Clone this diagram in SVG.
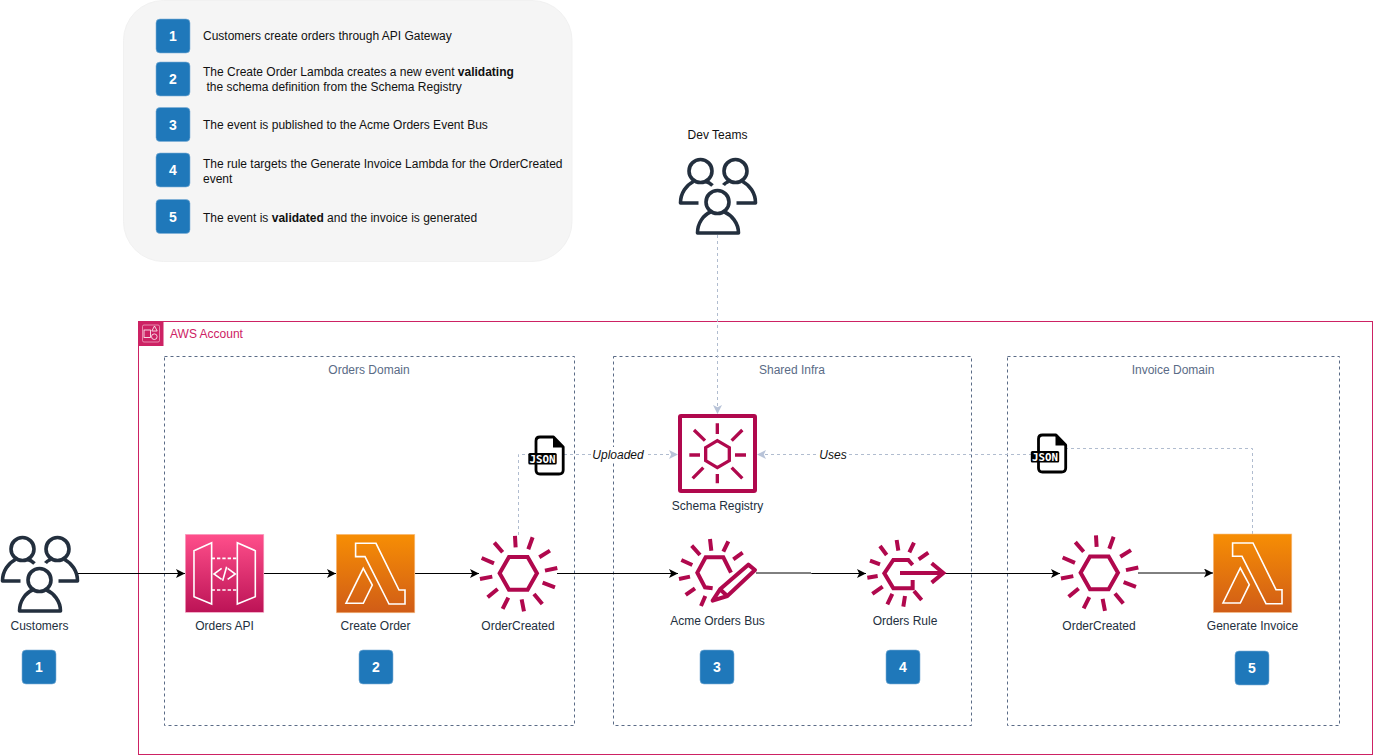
<svg xmlns="http://www.w3.org/2000/svg" width="1373" height="755" viewBox="0 0 1373 755">
<style>
text{font-family:"Liberation Sans",Arial,sans-serif;font-size:12px}
.lbl{fill:#232f3e;text-anchor:middle}
.lg{fill:#111}
.dom{fill:none;stroke:#5a6b86;stroke-dasharray:3 3}
.domt{fill:#5a6b86;text-anchor:middle}
.badge rect{fill:#1f78ba;stroke:#7fb0d6;stroke-width:.6}
.badge text{fill:#fff;font-weight:bold;font-size:14px;text-anchor:middle}
.flow{fill:none;stroke:#000;marker-end:url(#ah)}
.dep{fill:none;stroke:#b0bccf;stroke-dasharray:3 3}
.it{font-style:italic;fill:#111;text-anchor:middle}
.ppl{fill:none;stroke:#232f3e;stroke-width:3.6;stroke-linejoin:round}
.pink{fill:none;stroke:#b0084d;stroke-width:12}
.wht{fill:none;stroke:#fff;stroke-width:1.6}
</style>
<defs>
<marker id="ah" markerUnits="userSpaceOnUse" markerWidth="10" markerHeight="10" refX="9" refY="4.5" orient="auto"><path d="M9,4.5 L0,9 L2.2,4.5 L0,0 Z" fill="#000"/></marker>
<marker id="al" markerUnits="userSpaceOnUse" markerWidth="10" markerHeight="10" refX="9" refY="4.5" orient="auto"><path d="M9,4.5 L0,9 L2.2,4.5 L0,0 Z" fill="#b8c3d8"/></marker>
<linearGradient id="gp" x1="0" y1="0" x2="0" y2="1"><stop offset="0" stop-color="#ff4f8b"/><stop offset="1" stop-color="#bc1356"/></linearGradient>
<linearGradient id="go" x1="0" y1="0" x2="0" y2="1"><stop offset="0" stop-color="#f78e04"/><stop offset="1" stop-color="#d05c17"/></linearGradient>
<g id="people" class="ppl">
<circle cx="22" cy="14" r="11.5"/><circle cx="57" cy="14" r="11.5"/><circle cx="39" cy="45" r="11.5"/>
<path d="M20,46 H2 C2,36 8,28 15,24.5 M27,24.5 C29.5,25 32,26.5 34,28.5"/>
<path d="M58,46 H77 C77,36 71,28 64,24.5 M50,24.5 C48,25.5 46,26.5 45,28"/>
<path d="M32,55 C25,58 19,66 19,76 H60 C60,66 53,58 46,55"/>
</g>
<g id="evt" class="pink" transform="scale(.3333)">
<path d="M-56,0 L-28,-49 H28 L56,0 L28,49 H-28 Z"/>
<path d="M-10,-112 L-8,-78 M43,-108 L30,-72 M95,-68 L63,-48 M117,-16 L80,-8 M110,42 L73,28 M72,92 L47,62 M17,114 L10,78 M-47,107 L-30,73 M-92,72 L-62,47 M-115,17 L-78,10 M-110,-46 L-73,-30 M-72,-92 L-47,-63"/>
</g>
<g id="lam">
<rect width="78.5" height="78.5" fill="url(#go)" stroke="#f8c48c" stroke-width=".6"/>
<path class="wht" d="M19.3,9 H39.7 L62.7,55.7 H68.7 V69.7 H52.7 L28.7,22.3 H19.3 Z"/>
<path class="wht" d="M27,34 L36,50.7 L27,69 H9.7 Z"/>
</g>
<g id="json">
<path d="M544,437 H553.500 L563.200,447 V470 Q563.200,474 559,474 H540 Q536,474 536,470 V441 Q536,437 540,437 Z" fill="#fff" stroke="#000" stroke-width="2.8" stroke-linejoin="round"/>
<path d="M553,437 L563.500,447.500 H553 Z" fill="#000"/>
<rect x="528.300" y="453" width="28.400" height="11.500" rx="1.500" fill="#000"/>
<text x="542.500" y="462.500" fill="#fff" text-anchor="middle" style="font-family:'DejaVu Sans Mono','Liberation Mono',monospace;font-size:10.8px;font-weight:bold">JSON</text>
</g>
</defs>
<rect width="1373" height="755" fill="#fff"/>

<g id="legend">
<rect x="123.500" y="0.500" width="448.500" height="261" rx="40" fill="#f5f5f5" stroke="#f1f1f1"/>
<text class="lg" x="203" y="40">Customers create orders through API Gateway</text>
<text class="lg" x="203" y="76">The Create Order Lambda creates a new event <tspan font-weight="bold">validating</tspan></text>
<text class="lg" x="206.400" y="91">the schema definition from the Schema Registry</text>
<text class="lg" x="203" y="129">The event is published to the Acme Orders Event Bus</text>
<text class="lg" x="203" y="168">The rule targets the Generate Invoice Lambda for the OrderCreated</text>
<text class="lg" x="203" y="183">event</text>
<text class="lg" x="203" y="222">The event is <tspan font-weight="bold">validated</tspan> and the invoice is generated</text>
<g class="badge"><rect x="156" y="19" width="34" height="34" rx="4"/><text x="173" y="41">1</text></g>
<g class="badge"><rect x="156" y="62" width="34" height="34" rx="4"/><text x="173" y="84">2</text></g>
<g class="badge"><rect x="156" y="107.500" width="34" height="34" rx="4"/><text x="173" y="129.500">3</text></g>
<g class="badge"><rect x="156" y="153" width="34" height="34" rx="4"/><text x="173" y="175">4</text></g>
<g class="badge"><rect x="156" y="199.500" width="34" height="34" rx="4"/><text x="173" y="221.500">5</text></g>
</g>

<g id="aws-account">
<rect x="138.500" y="321.500" width="1234" height="433" fill="none" stroke="#cd2264"/>
<rect x="138.500" y="321" width="25" height="25" fill="#cd2264"/>
<rect x="142.500" y="325" width="17" height="17" rx="1.500" fill="none" stroke="#f3b6cd" stroke-width=".7"/>
<rect x="144" y="330" width="6.500" height="7.500" fill="none" stroke="#fff" stroke-width=".8"/>
<path d="M154.500,326 L151.800,331 H157.200 Z" fill="none" stroke="#fff" stroke-width=".8"/>
<circle cx="154.300" cy="336.700" r="2.800" fill="none" stroke="#fff" stroke-width=".8"/>
<text x="170" y="338" fill="#cd2264">AWS Account</text>
</g>
<g id="orders-domain"><rect class="dom" x="164.500" y="356.500" width="410" height="369"/><text class="domt" x="369" y="374">Orders Domain</text></g>
<g id="shared-infra"><rect class="dom" x="613.500" y="356.500" width="358" height="369"/><text class="domt" x="792" y="374">Shared Infra</text></g>
<g id="invoice-domain"><rect class="dom" x="1007.500" y="356.500" width="332" height="369"/><text class="domt" x="1173" y="374">Invoice Domain</text></g>

<g id="connectors">
<path class="flow" d="M78,573.500 H185"/>
<path class="flow" d="M264,573.500 H336"/>
<path class="flow" d="M415,573.500 H479"/>
<path class="flow" d="M557,573.500 H678"/>
<path class="flow" d="M756,573 H811 L811.500,573.500 H866"/>
<path class="flow" d="M944,573.500 H1060"/>
<path class="flow" d="M1138,573 H1213"/>
<path class="dep" d="M717.500,235 V414" marker-end="url(#al)"/>
<path class="dep" d="M518.500,535 V454.500 H678" marker-end="url(#al)"/>
<path class="dep" d="M1252.500,534 V448.500 H1042 V454.500 H757" marker-end="url(#al)"/>
<rect x="591" y="447" width="54" height="16" fill="#fff"/>
<text class="it" x="618" y="459">Uploaded</text>
<rect x="818" y="447" width="30" height="16" fill="#fff"/>
<text class="it" x="833" y="459">Uses</text>
</g>

<g id="dev-teams"><text x="717.500" y="139" fill="#111" text-anchor="middle">Dev Teams</text><use href="#people" x="678.500" y="157"/></g>
<g id="customers"><use href="#people" x="0.500" y="535"/><text class="lbl" x="39.500" y="630">Customers</text></g>
<g id="badge-1" class="badge"><rect x="22" y="650" width="34" height="34" rx="4"/><text x="39" y="672">1</text></g>

<g id="orders-api">
<rect x="185.300" y="534.300" width="78.500" height="78" fill="url(#gp)" stroke="#f7a8c6" stroke-width=".6"/>
<g transform="translate(0 520) scale(.3333)" fill="none" stroke="#fff" stroke-width="4.800">
<path d="M582,92 L635,68 V252 L582,230 Z M712,68 L766,92 V230 L712,252 Z"/>
<path d="M665,145 L642,162 L665,178 M683,145 L706,162 L683,178 M668,182 L680,140"/>
<path d="M635,115 H712 M635,210 H712" stroke-dasharray="10 6"/>
</g>
<text class="lbl" x="224.500" y="630">Orders API</text>
</g>

<g id="create-order"><use href="#lam" x="336.300" y="534.300"/><text class="lbl" x="375.500" y="630">Create Order</text></g>
<g id="badge-2" class="badge"><rect x="359" y="650" width="34" height="34" rx="4"/><text x="376" y="672">2</text></g>

<g id="order-created"><use href="#evt" transform="translate(518.300 573.300)"/><text class="lbl" x="518" y="630">OrderCreated</text></g>
<g id="json-uploaded"><use href="#json"/></g>

<g id="schema-registry">
<rect x="680" y="416" width="75" height="75" fill="none" stroke="#b0084d" stroke-width="4" rx="1"/>
<g transform="translate(640 400) scale(.3333)" class="pink" style="stroke-width:10">
<path d="M232,122 L268,143 V182 L232,203 L197,182 V143 Z"/>
<path d="M232,70 V102 M232,222 V250 M148,165 H180 M285,165 H318 M162,90 L195,122 M307,90 L275,122 M158,235 L190,203 M307,235 L275,203"/>
</g>
<text class="lbl" x="717.500" y="510">Schema Registry</text>
</g>

<g id="acme-orders-bus">
<g transform="translate(640 400) scale(.3333)" class="pink">
<path d="M218,565 L195,562 L172,518 L197,472 H250 L273,518"/>
<path d="M210,417 L214,452 M265,424 L250,455 M308,458 L280,478 M155,437 L180,465 M124,480 L157,495 M117,537 L150,530 M137,585 L165,565 M183,618 L196,588"/>
<path d="M218,602 L240,568 L325,494 L345,510 L262,588 Z M240,568 L262,588" stroke-linejoin="round" fill="#fff"/>
</g>
<text class="lbl" x="717.500" y="625">Acme Orders Bus</text>
</g>
<g id="badge-3" class="badge"><rect x="700" y="650" width="34" height="34" rx="4"/><text x="717" y="672">3</text></g>

<g id="orders-rule">
<g transform="translate(840 520) scale(.3333)" class="pink">
<path d="M218,180 V205 H160 L133,160 L160,120 H205 L218,135"/>
<path d="M170,60 L175,92 M222,68 L208,97 M265,98 L236,118 M90,122 L120,133 M120,78 L140,105 M82,173 L113,168 M97,222 L128,200 M142,253 L157,222 M190,260 L195,228 M245,240 L222,213"/>
<path d="M180,159 H305 M275,130 L310,159 L275,188"/>
</g>
<text class="lbl" x="905" y="625">Orders Rule</text>
</g>
<g id="badge-4" class="badge"><rect x="886" y="650" width="34" height="34" rx="4"/><text x="903" y="672">4</text></g>

<g id="order-created-2"><use href="#evt" transform="translate(1099.300 572.800)"/><text class="lbl" x="1099" y="630">OrderCreated</text></g>
<g id="json-used"><use href="#json" transform="translate(502.500 -2)"/></g>

<g id="generate-invoice"><use href="#lam" x="1213.300" y="534"/><text class="lbl" x="1252.500" y="630">Generate Invoice</text></g>
<g id="badge-5" class="badge"><rect x="1235" y="651" width="34" height="34" rx="4"/><text x="1252" y="673">5</text></g>
</svg>
